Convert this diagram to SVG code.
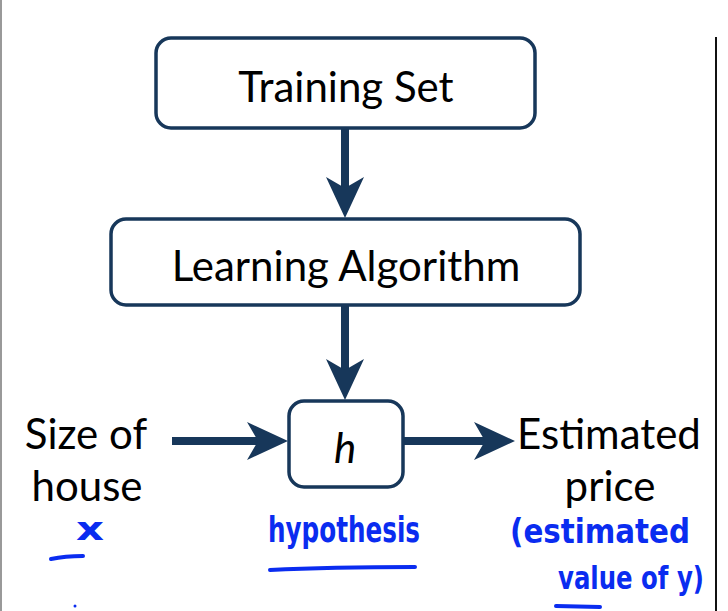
<svg xmlns="http://www.w3.org/2000/svg" width="728" height="611" viewBox="0 0 728 611">
<defs>
<style>
.box{fill:#fff;stroke:#17375a;stroke-width:3.5}
.lbl{font-family:Lato,"Open Sans","Liberation Sans",sans-serif;font-size:42px;fill:#000;text-anchor:middle}
.shaft{stroke:#17375a;stroke-width:8;fill:none}
.head{fill:#17375a}
.hand{font-family:"DejaVu Sans Condensed","DejaVu Sans",sans-serif;fill:#0a2cf0;font-weight:bold}
.ul{stroke:#0a2cf0;stroke-width:4;stroke-linecap:round;fill:none}
</style>
</defs>
<rect x="0" y="0" width="728" height="611" fill="#fff"/>
<line x1="1" y1="0" x2="1" y2="611" stroke="#777" stroke-width="1.5"/>
<line x1="716" y1="37" x2="716" y2="611" stroke="#111" stroke-width="2"/>

<g id="connectors">
<line class="shaft" x1="345" y1="128" x2="345" y2="190"/>
<path class="head" d="M345,218 L326,177 L345,188 L364,177 Z"/>
<line class="shaft" x1="345" y1="305" x2="345" y2="372"/>
<path class="head" d="M345,400 L326,359 L345,370 L364,359 Z"/>
<line class="shaft" x1="172" y1="441" x2="262" y2="441"/>
<path class="head" d="M288,441 L247,422 L258,441 L247,460 Z"/>
<line class="shaft" x1="403" y1="441" x2="490" y2="441"/>
<path class="head" d="M515,441 L474,422 L485,441 L474,460 Z"/>
</g>

<g id="training-set">
<rect class="box" x="156" y="38" width="379" height="90" rx="15"/>
<text class="lbl" x="346" y="102">Training Set</text>
</g>
<g id="learning-algorithm">
<rect class="box" x="111" y="219" width="469" height="86" rx="15"/>
<text class="lbl" x="346" y="281">Learning Algorithm</text>
</g>
<g id="h">
<rect class="box" x="289" y="401" width="114" height="86" rx="15"/>
<text class="lbl" x="345" y="463" font-style="italic">h</text>
</g>
<g id="input">
<text class="lbl" x="86" y="449">Size of</text>
<text class="lbl" x="87" y="501">house</text>
</g>
<g id="output">
<text class="lbl" x="609" y="449">Estimated</text>
<text class="lbl" x="610" y="501">price</text>
</g>

<g id="annotations">
<text class="hand" x="76" y="540" style="font-size:32px" textLength="28" lengthAdjust="spacingAndGlyphs">x</text>
<path class="ul" d="M51,559 Q65,556 83,556"/>
<text class="hand" x="268" y="542" style="font-size:36px" textLength="152" lengthAdjust="spacingAndGlyphs">hypothesis</text>
<path class="ul" d="M270,570 Q330,567 415,567"/>
<text class="hand" x="510" y="543" style="font-size:34px" textLength="180" lengthAdjust="spacingAndGlyphs">(estimated</text>
<text class="hand" x="558" y="589" style="font-size:32px" textLength="146" lengthAdjust="spacingAndGlyphs">value of y)</text>
<path class="ul" d="M556,606 L600,607"/>
<circle cx="75" cy="606" r="1.5" fill="#0a2cf0"/>
</g>
</svg>
